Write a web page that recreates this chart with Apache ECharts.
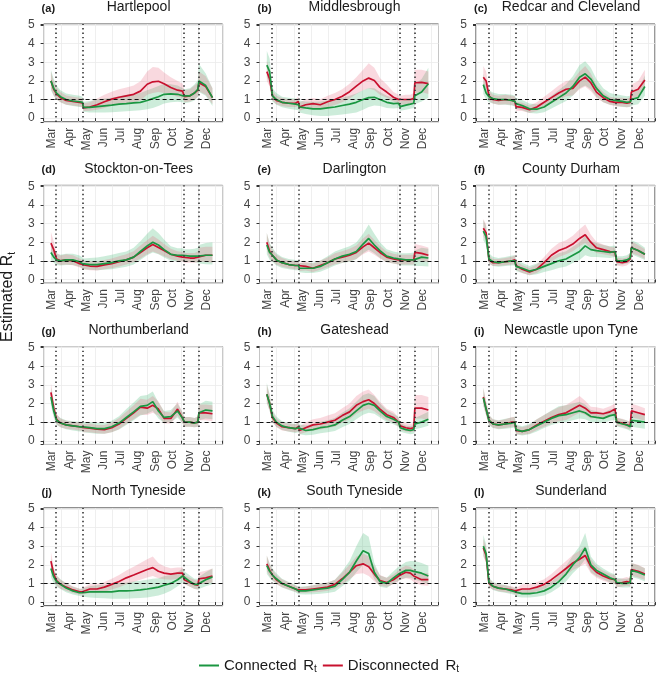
<!DOCTYPE html>
<html>
<head>
<meta charset="utf-8">
<script src="https://cdn.jsdelivr.net/npm/echarts@6.0.0/dist/echarts.min.js"></script>
<style>
  html, body { margin: 0; padding: 0; background: #fff; }
  #eCharts { width: 658px; height: 673px; }
</style>
</head>
<body>
<div id="eCharts"></div>
<script>
// days since 1 March 2020
var days = [13, 18, 23, 30, 40, 52, 64, 69, 71, 82, 95, 108, 121, 134, 147, 160, 172, 184, 194, 204, 214, 226, 238, 247, 250, 260, 268, 274, 276, 288, 300];
var monthLabels = ['Mar', 'Apr', 'May', 'Jun', 'Jul', 'Aug', 'Sep', 'Oct', 'Nov', 'Dec'];
var restrictionDays = [22, 70, 249, 276];
var areaNames = ['Hartlepool', 'Middlesbrough', 'Redcar and Cleveland', 'Stockton-on-Tees', 'Darlington', 'County Durham',
    'Northumberland', 'Gateshead', 'Newcastle upon Tyne', 'North Tyneside', 'South Tyneside', 'Sunderland'];
var panelTags = ['(a)', '(b)', '(c)', '(d)', '(e)', '(f)', '(g)', '(h)', '(i)', '(j)', '(k)', '(l)'];

// connected Rt: median, lower, upper (one row per area)
var connMid = [
    [2.0,1.6,1.35,1.15,1.0,0.92,0.88,0.85,0.58,0.58,0.62,0.66,0.7,0.75,0.78,0.82,0.85,0.95,1.05,1.15,1.28,1.3,1.28,1.2,1.15,1.2,1.35,1.55,2.0,1.75,1.1],
    [2.85,2.5,1.2,1.0,0.85,0.8,0.75,0.72,0.6,0.55,0.5,0.5,0.55,0.6,0.68,0.75,0.85,1.0,1.1,1.12,1.0,0.85,0.78,0.8,0.62,0.7,0.75,0.8,1.2,1.4,1.85],
    [1.8,1.35,1.15,1.05,1.0,1.0,0.95,0.9,0.78,0.68,0.5,0.48,0.6,0.85,1.1,1.35,1.7,2.2,2.38,2.1,1.6,1.2,1.0,0.95,0.95,0.9,0.85,0.88,1.0,1.1,1.7],
    [1.45,1.2,1.05,1.0,1.05,1.05,0.95,0.85,0.8,0.8,0.8,0.85,0.9,1.0,1.05,1.2,1.5,1.8,2.0,1.85,1.6,1.35,1.3,1.3,1.25,1.25,1.25,1.25,1.3,1.3,1.3],
    [1.85,1.45,1.3,1.05,0.9,0.8,0.75,0.75,0.6,0.6,0.6,0.7,0.9,1.1,1.25,1.35,1.5,1.9,2.2,1.85,1.55,1.25,1.15,1.1,1.05,1.05,1.05,1.05,1.1,1.2,1.15],
    [2.6,2.3,1.1,0.95,0.9,0.95,1.0,1.0,0.7,0.6,0.45,0.55,0.7,0.85,1.0,1.1,1.3,1.5,1.8,1.6,1.55,1.5,1.45,1.5,1.0,1.0,1.05,1.15,1.7,1.55,1.35],
    [2.35,1.6,1.1,0.95,0.85,0.8,0.75,0.75,0.7,0.7,0.65,0.65,0.75,0.95,1.25,1.55,1.85,1.9,2.1,1.6,1.25,1.3,1.6,1.2,1.0,1.0,0.95,1.0,1.5,1.65,1.6],
    [2.5,2.0,1.3,1.0,0.8,0.7,0.65,0.7,0.6,0.55,0.6,0.7,0.75,0.85,1.1,1.3,1.6,1.9,2.0,1.9,1.6,1.3,1.15,1.0,0.7,0.6,0.55,0.6,0.9,1.0,1.15],
    [2.3,1.7,1.1,0.9,0.85,0.9,0.95,1.0,0.6,0.5,0.6,0.8,1.0,1.2,1.35,1.4,1.5,1.6,1.5,1.3,1.25,1.2,1.35,1.4,1.0,0.9,0.85,0.75,1.1,1.05,1.0],
    [1.8,1.35,1.1,0.95,0.75,0.6,0.5,0.5,0.5,0.55,0.55,0.55,0.55,0.6,0.6,0.62,0.65,0.7,0.75,0.8,0.9,1.0,1.2,1.4,1.3,1.1,0.95,0.95,1.0,1.2,1.35],
    [1.95,1.65,1.45,1.25,1.0,0.85,0.7,0.6,0.6,0.6,0.65,0.7,0.75,0.85,1.2,1.6,2.2,2.75,2.6,1.6,1.1,1.0,1.3,1.5,1.55,1.7,1.7,1.65,1.65,1.55,1.4],
    [3.0,2.6,1.05,0.85,0.75,0.7,0.6,0.55,0.45,0.45,0.45,0.5,0.6,0.8,1.1,1.5,2.0,2.4,2.9,2.0,1.7,1.5,1.3,1.2,1.05,1.0,1.0,1.05,1.7,1.6,1.45]
];
var connLo = [
    [1.5,1.2,1.0,0.85,0.72,0.65,0.6,0.58,0.35,0.3,0.3,0.3,0.32,0.35,0.37,0.4,0.42,0.48,0.55,0.65,0.78,0.85,0.88,0.85,0.8,0.85,0.95,1.15,1.4,1.2,0.65],
    [2.2,1.9,0.9,0.72,0.58,0.5,0.45,0.42,0.3,0.22,0.15,0.12,0.12,0.15,0.2,0.25,0.3,0.45,0.6,0.68,0.65,0.55,0.52,0.55,0.4,0.45,0.5,0.55,0.75,0.9,1.1],
    [1.3,1.0,0.85,0.78,0.72,0.72,0.68,0.62,0.5,0.42,0.28,0.25,0.32,0.52,0.72,0.92,1.2,1.6,1.75,1.55,1.15,0.85,0.72,0.68,0.65,0.6,0.58,0.6,0.68,0.75,1.2],
    [1.05,0.9,0.78,0.75,0.78,0.78,0.68,0.6,0.55,0.52,0.5,0.52,0.55,0.62,0.68,0.8,1.05,1.3,1.45,1.35,1.18,1.0,0.98,0.98,0.95,0.95,0.92,0.9,0.85,0.82,0.8],
    [1.35,1.05,0.95,0.75,0.62,0.55,0.5,0.5,0.38,0.35,0.35,0.42,0.58,0.75,0.88,0.95,1.08,1.4,1.6,1.4,1.15,0.92,0.85,0.8,0.75,0.75,0.75,0.75,0.72,0.72,0.7],
    [2.1,1.85,0.85,0.72,0.68,0.72,0.75,0.75,0.45,0.35,0.22,0.28,0.4,0.5,0.62,0.7,0.88,1.05,1.3,1.2,1.2,1.18,1.15,1.2,0.8,0.8,0.85,0.92,1.35,1.2,1.05],
    [1.9,1.25,0.85,0.72,0.62,0.55,0.5,0.5,0.45,0.42,0.38,0.38,0.45,0.6,0.85,1.1,1.35,1.45,1.6,1.2,0.95,1.0,1.25,0.92,0.75,0.75,0.72,0.75,1.1,1.2,1.15],
    [2.0,1.6,1.0,0.75,0.58,0.48,0.42,0.45,0.35,0.3,0.32,0.4,0.45,0.52,0.72,0.9,1.15,1.4,1.5,1.45,1.25,1.0,0.88,0.75,0.48,0.4,0.35,0.38,0.62,0.7,0.8],
    [1.85,1.35,0.85,0.68,0.62,0.65,0.68,0.72,0.35,0.28,0.35,0.5,0.68,0.85,0.95,1.0,1.1,1.2,1.15,1.0,0.98,0.95,1.08,1.12,0.78,0.68,0.62,0.52,0.75,0.7,0.65],
    [1.35,1.0,0.82,0.7,0.52,0.4,0.32,0.3,0.28,0.25,0.22,0.2,0.18,0.18,0.18,0.2,0.22,0.25,0.3,0.35,0.45,0.6,0.85,1.05,0.98,0.82,0.7,0.68,0.7,0.85,0.95],
    [1.5,1.3,1.15,0.98,0.78,0.65,0.52,0.42,0.42,0.4,0.42,0.45,0.48,0.55,0.85,1.15,1.6,2.0,1.95,1.22,0.82,0.75,1.0,1.15,1.2,1.3,1.3,1.25,1.2,1.1,0.95],
    [2.5,2.15,0.82,0.65,0.55,0.5,0.42,0.38,0.28,0.25,0.25,0.28,0.35,0.52,0.78,1.1,1.55,1.9,2.3,1.6,1.38,1.22,1.05,0.95,0.82,0.78,0.78,0.8,1.35,1.25,1.1]
];
var connHi = [
    [2.6,2.1,1.75,1.5,1.32,1.25,1.2,1.15,0.88,0.92,1.0,1.05,1.1,1.18,1.25,1.3,1.35,1.5,1.6,1.72,1.85,1.82,1.75,1.6,1.55,1.6,1.8,2.05,2.9,2.4,1.6],
    [3.6,3.2,1.6,1.35,1.15,1.1,1.05,1.02,0.95,0.9,0.88,0.9,0.95,1.02,1.1,1.2,1.32,1.5,1.62,1.6,1.4,1.2,1.08,1.1,0.9,1.0,1.05,1.15,1.8,2.1,2.7],
    [2.4,1.75,1.5,1.38,1.3,1.3,1.25,1.2,1.08,0.98,0.78,0.75,0.9,1.2,1.5,1.82,2.25,2.85,3.05,2.7,2.1,1.6,1.35,1.28,1.28,1.22,1.18,1.2,1.35,1.5,2.3],
    [2.0,1.6,1.4,1.32,1.38,1.38,1.28,1.18,1.12,1.15,1.18,1.25,1.32,1.42,1.5,1.7,2.05,2.45,2.75,2.5,2.15,1.78,1.68,1.68,1.62,1.62,1.65,1.7,1.85,1.95,2.0],
    [2.5,1.95,1.7,1.4,1.2,1.1,1.05,1.05,0.88,0.9,0.9,1.02,1.25,1.5,1.65,1.78,1.98,2.45,2.95,2.45,2.0,1.62,1.5,1.45,1.4,1.4,1.42,1.45,1.55,1.7,1.65],
    [3.2,2.85,1.4,1.22,1.15,1.2,1.28,1.3,1.0,0.9,0.72,0.85,1.02,1.2,1.4,1.52,1.75,2.0,2.35,2.05,1.95,1.85,1.78,1.82,1.25,1.25,1.3,1.42,2.1,1.95,1.7],
    [2.9,2.0,1.4,1.22,1.1,1.05,1.02,1.02,0.98,1.0,0.95,0.95,1.08,1.32,1.7,2.05,2.4,2.45,2.65,2.05,1.6,1.65,2.0,1.5,1.28,1.28,1.22,1.3,1.95,2.15,2.1],
    [3.1,2.5,1.65,1.3,1.05,0.95,0.9,0.95,0.88,0.82,0.9,1.02,1.1,1.22,1.5,1.75,2.1,2.45,2.55,2.4,2.0,1.65,1.45,1.28,0.95,0.82,0.78,0.85,1.22,1.38,1.55],
    [2.85,2.1,1.4,1.15,1.1,1.18,1.25,1.3,0.88,0.78,0.9,1.15,1.38,1.62,1.85,1.9,2.0,2.1,1.95,1.65,1.58,1.5,1.68,1.72,1.25,1.15,1.1,1.0,1.5,1.48,1.42],
    [2.35,1.75,1.42,1.22,1.0,0.82,0.72,0.72,0.75,0.85,0.9,0.92,0.95,1.02,1.05,1.1,1.15,1.2,1.25,1.28,1.38,1.45,1.6,1.8,1.65,1.42,1.25,1.25,1.35,1.6,1.8],
    [2.5,2.05,1.8,1.55,1.25,1.08,0.92,0.82,0.82,0.85,0.9,0.98,1.05,1.2,1.65,2.2,3.0,3.7,3.5,2.1,1.42,1.3,1.65,1.9,1.95,2.15,2.2,2.2,2.2,2.1,1.95],
    [3.6,3.1,1.32,1.08,0.98,0.92,0.8,0.75,0.65,0.68,0.68,0.75,0.88,1.1,1.45,1.92,2.5,3.0,3.7,2.45,2.05,1.8,1.58,1.48,1.3,1.25,1.25,1.3,2.1,1.98,1.82]
];

// disconnected Rt: median, lower, upper (one row per area)
var discMid = [
    [2.0,1.55,1.3,1.1,0.95,0.9,0.85,0.82,0.55,0.6,0.72,0.88,1.02,1.12,1.2,1.28,1.45,1.82,1.95,1.98,1.85,1.65,1.5,1.45,1.15,1.2,1.35,1.5,1.9,1.7,1.1],
    [2.5,2.1,1.2,0.95,0.85,0.8,0.8,0.9,0.6,0.72,0.78,0.72,0.88,1.0,1.18,1.42,1.72,2.0,2.15,2.02,1.65,1.4,1.12,1.0,0.95,1.0,1.0,1.05,1.9,1.92,1.85],
    [2.2,2.0,1.2,1.0,0.95,1.0,0.95,0.9,0.62,0.58,0.45,0.6,0.85,1.1,1.35,1.55,1.6,2.0,2.2,1.9,1.4,1.1,0.9,0.85,0.85,0.85,0.8,0.85,1.4,1.55,2.05],
    [1.95,1.6,1.1,1.0,1.05,1.0,0.85,0.8,0.75,0.72,0.7,0.78,0.85,0.95,1.05,1.2,1.45,1.7,1.88,1.72,1.55,1.35,1.25,1.2,1.15,1.15,1.15,1.2,1.3,1.3,1.3],
    [2.0,1.5,1.3,1.05,0.9,0.8,0.75,0.75,0.65,0.7,0.6,0.75,0.9,1.1,1.2,1.3,1.45,1.75,1.95,1.7,1.45,1.2,1.1,1.05,1.05,1.05,1.05,1.05,1.45,1.4,1.3],
    [2.75,2.5,1.05,0.9,0.9,0.95,1.0,1.05,0.75,0.55,0.4,0.55,0.9,1.3,1.55,1.7,1.9,2.2,2.4,2.0,1.7,1.6,1.5,1.45,0.95,0.9,0.95,1.1,1.7,1.55,1.35],
    [2.6,1.75,1.15,0.95,0.85,0.8,0.75,0.72,0.65,0.68,0.62,0.6,0.7,0.9,1.2,1.5,1.8,1.75,1.9,1.7,1.2,1.2,1.7,1.2,1.0,1.0,0.95,1.0,1.5,1.5,1.45],
    [2.5,2.0,1.25,0.95,0.75,0.7,0.65,0.75,0.55,0.7,0.85,0.9,1.0,1.1,1.35,1.55,1.9,2.1,2.2,2.0,1.7,1.4,1.25,1.0,0.8,0.7,0.65,0.7,1.75,1.75,1.65],
    [2.35,1.7,1.1,0.9,0.85,0.9,1.0,1.0,0.55,0.5,0.6,0.85,1.05,1.25,1.4,1.5,1.7,1.9,1.75,1.5,1.5,1.45,1.55,1.7,1.0,0.95,0.85,0.8,1.6,1.5,1.4],
    [2.2,1.5,1.15,0.95,0.8,0.65,0.55,0.55,0.6,0.7,0.7,0.8,0.95,1.1,1.3,1.45,1.6,1.75,1.85,1.65,1.55,1.5,1.55,1.55,1.2,1.05,0.95,0.9,1.25,1.3,1.4],
    [2.05,1.7,1.45,1.2,1.0,0.85,0.7,0.65,0.62,0.65,0.7,0.75,0.8,0.95,1.25,1.6,1.95,2.05,1.9,1.5,1.15,1.05,1.2,1.4,1.5,1.6,1.55,1.4,1.35,1.2,1.2],
    [2.9,2.5,1.0,0.85,0.75,0.7,0.65,0.6,0.55,0.7,0.7,0.8,0.95,1.2,1.5,1.8,2.1,2.3,2.5,1.9,1.6,1.4,1.25,1.2,1.0,1.05,1.1,1.05,1.75,1.65,1.5]
];
var discLo = [
    [1.6,1.2,1.0,0.85,0.72,0.68,0.62,0.6,0.38,0.4,0.45,0.55,0.68,0.75,0.8,0.85,0.95,1.25,1.35,1.4,1.35,1.25,1.15,1.1,0.85,0.9,1.0,1.15,1.45,1.25,0.75],
    [2.0,1.7,0.95,0.75,0.65,0.6,0.6,0.65,0.4,0.5,0.52,0.48,0.6,0.7,0.85,1.05,1.3,1.5,1.6,1.5,1.25,1.1,0.9,0.8,0.7,0.75,0.75,0.8,1.35,1.4,1.3],
    [1.75,1.6,0.95,0.78,0.72,0.75,0.7,0.65,0.4,0.38,0.28,0.38,0.58,0.8,1.0,1.18,1.22,1.55,1.7,1.45,1.08,0.85,0.7,0.65,0.62,0.62,0.58,0.62,1.05,1.15,1.55],
    [1.5,1.25,0.85,0.78,0.8,0.76,0.64,0.58,0.55,0.5,0.48,0.55,0.6,0.7,0.8,0.92,1.12,1.35,1.5,1.38,1.25,1.08,1.0,0.95,0.9,0.9,0.9,0.92,0.95,0.95,0.9],
    [1.6,1.15,1.0,0.8,0.68,0.6,0.55,0.55,0.45,0.48,0.4,0.52,0.65,0.82,0.9,0.98,1.1,1.35,1.5,1.32,1.12,0.92,0.85,0.8,0.8,0.8,0.8,0.8,1.05,1.02,0.92],
    [2.3,2.1,0.85,0.72,0.72,0.76,0.8,0.82,0.52,0.35,0.22,0.35,0.62,0.98,1.2,1.35,1.52,1.78,1.95,1.65,1.42,1.35,1.28,1.22,0.75,0.7,0.75,0.88,1.4,1.28,1.1],
    [2.15,1.4,0.9,0.72,0.65,0.6,0.55,0.52,0.45,0.45,0.4,0.38,0.45,0.62,0.9,1.15,1.4,1.38,1.5,1.35,0.92,0.92,1.35,0.92,0.75,0.75,0.72,0.75,1.1,1.1,1.05],
    [2.05,1.62,1.0,0.72,0.55,0.5,0.45,0.52,0.35,0.45,0.55,0.6,0.68,0.75,0.98,1.15,1.45,1.62,1.72,1.58,1.35,1.1,0.98,0.78,0.58,0.5,0.45,0.5,1.2,1.2,1.1],
    [1.95,1.38,0.88,0.7,0.65,0.68,0.75,0.75,0.35,0.32,0.38,0.58,0.75,0.92,1.05,1.12,1.32,1.5,1.4,1.2,1.22,1.18,1.28,1.4,0.8,0.75,0.65,0.6,1.25,1.18,1.08],
    [1.8,1.2,0.9,0.72,0.6,0.48,0.4,0.4,0.42,0.48,0.48,0.55,0.68,0.8,0.95,1.08,1.2,1.32,1.4,1.28,1.22,1.2,1.25,1.25,0.95,0.82,0.72,0.68,0.95,0.98,1.05],
    [1.65,1.38,1.18,0.95,0.8,0.68,0.55,0.5,0.48,0.5,0.52,0.55,0.6,0.72,0.95,1.22,1.5,1.55,1.4,1.12,0.88,0.82,0.95,1.12,1.2,1.28,1.22,1.08,1.02,0.9,0.88],
    [2.45,2.1,0.8,0.68,0.58,0.52,0.48,0.42,0.38,0.48,0.48,0.56,0.7,0.92,1.18,1.45,1.72,1.9,2.05,1.55,1.3,1.15,1.02,0.98,0.8,0.84,0.88,0.84,1.42,1.32,1.2]
];
var discHi = [
    [2.5,1.95,1.65,1.4,1.22,1.15,1.1,1.05,0.78,0.85,1.05,1.25,1.42,1.55,1.65,1.75,1.98,2.5,2.75,2.7,2.45,2.2,2.0,1.85,1.5,1.55,1.75,1.9,2.5,2.25,1.6],
    [3.1,2.6,1.5,1.2,1.08,1.02,1.02,1.15,0.85,1.0,1.08,1.02,1.2,1.35,1.55,1.85,2.2,2.6,2.95,2.7,2.15,1.8,1.4,1.25,1.2,1.25,1.25,1.35,2.6,2.6,2.5],
    [2.8,2.5,1.5,1.25,1.2,1.25,1.2,1.18,0.88,0.82,0.68,0.85,1.15,1.45,1.75,2.0,2.05,2.5,2.8,2.4,1.78,1.4,1.15,1.1,1.1,1.1,1.05,1.1,1.8,2.0,2.6],
    [2.55,2.05,1.4,1.28,1.35,1.3,1.12,1.05,1.0,0.98,0.95,1.05,1.12,1.25,1.35,1.52,1.82,2.1,2.35,2.15,1.9,1.65,1.52,1.48,1.42,1.42,1.42,1.5,1.7,1.75,1.75],
    [2.5,1.9,1.62,1.32,1.15,1.02,0.98,0.98,0.88,0.95,0.85,1.0,1.18,1.4,1.52,1.65,1.82,2.2,2.45,2.12,1.8,1.5,1.38,1.32,1.32,1.32,1.32,1.32,1.9,1.82,1.72],
    [3.25,2.95,1.3,1.1,1.1,1.15,1.22,1.3,1.0,0.78,0.62,0.8,1.2,1.65,1.95,2.1,2.35,2.7,2.95,2.4,2.02,1.88,1.75,1.7,1.18,1.12,1.18,1.35,2.05,1.85,1.62],
    [3.1,2.15,1.45,1.2,1.08,1.02,0.98,0.95,0.88,0.92,0.85,0.85,0.98,1.22,1.55,1.9,2.25,2.2,2.4,2.12,1.55,1.52,2.1,1.5,1.28,1.28,1.22,1.28,1.95,1.95,1.9],
    [3.0,2.45,1.55,1.2,0.98,0.92,0.88,1.0,0.78,0.98,1.15,1.22,1.35,1.48,1.75,2.0,2.4,2.65,2.75,2.45,2.1,1.72,1.55,1.25,1.05,0.95,0.9,0.95,2.45,2.45,2.35],
    [2.85,2.1,1.38,1.15,1.08,1.15,1.28,1.28,0.8,0.72,0.85,1.15,1.38,1.6,1.8,1.92,2.15,2.4,2.15,1.82,1.8,1.72,1.85,2.0,1.22,1.18,1.08,1.02,2.0,1.88,1.75],
    [2.7,1.85,1.42,1.2,1.02,0.85,0.72,0.72,0.8,0.95,0.95,1.08,1.25,1.45,1.7,1.9,2.1,2.3,2.45,2.1,1.92,1.82,1.85,1.85,1.45,1.3,1.2,1.15,1.6,1.68,1.8],
    [2.5,2.05,1.75,1.45,1.22,1.05,0.88,0.82,0.8,0.82,0.9,0.98,1.05,1.2,1.58,2.0,2.45,2.6,2.45,1.92,1.45,1.3,1.48,1.7,1.8,1.95,1.9,1.75,1.7,1.55,1.55],
    [3.4,2.95,1.25,1.05,0.95,0.9,0.85,0.8,0.75,0.95,0.95,1.06,1.22,1.5,1.85,2.2,2.52,2.75,3.0,2.3,1.92,1.68,1.5,1.44,1.22,1.28,1.34,1.28,2.1,2.0,1.82]
];

var myChart = echarts.init(document.getElementById('eCharts'));

var FONT = 'Liberation Sans, Arial, Helvetica, sans-serif';
var green = '#1a9641';
var red = '#c8102e';
var greenBand = 'rgba(70,185,120,0.27)';
var redBand = 'rgba(228,80,110,0.22)';

// panel layout (pixels)
var colLeft = [43.6, 259.5, 476];
var rowY5 = [25, 186.3, 347.6, 508.9];   // pixel row of the "5" tick
var unitPx = 18.63;                        // pixels per Rt unit
var plotW = 179;
var yMin = -0.2, yMax = 5.05;
var xMax = 318;
var monthStep = 30.55;

var grids = [], xAxes = [], yAxes = [], series = [], graphics = [];

function bandSeries(k, lo, hi, color) {
    return {
        type: 'custom',
        xAxisIndex: k,
        yAxisIndex: k,
        silent: true,
        clip: true,
        z: 1,
        data: days.map(function (d, i) { return [d, lo[i], hi[i]]; }),
        renderItem: function (params, api) {
            if (params.dataIndex !== 0) return null;
            var pts = [];
            for (var i = 0; i < days.length; i++) pts.push(api.coord([days[i], lo[i]]));
            for (var j = days.length - 1; j >= 0; j--) pts.push(api.coord([days[j], hi[j]]));
            return { type: 'polygon', shape: { points: pts }, style: { fill: color } };
        }
    };
}

function monthFormatter(v) {
    var m = Math.round(v / monthStep);
    return (Math.abs(v - m * monthStep) < 0.01 && m < monthLabels.length) ? monthLabels[m] : '';
}

function rtFormatter(v) {
    return Math.abs(v - Math.round(v)) < 1e-6 ? String(Math.round(v)) : '';
}

for (var k = 0; k < 12; k++) {
    var row = Math.floor(k / 3), col = k % 3;
    var gridTop = rowY5[row] - (yMax - 5) * unitPx;
    grids.push({
        left: colLeft[col], top: gridTop, width: plotW, height: (yMax - yMin) * unitPx,
        show: true, borderColor: '#333', borderWidth: 1, backgroundColor: 'transparent'
    });
    xAxes.push({
        gridIndex: k, type: 'value', min: 0, max: xMax, interval: monthStep,
        axisLine: { show: false },
        axisTick: { show: true, length: 3, lineStyle: { color: '#333', width: 1 } },
        splitLine: { show: true, lineStyle: { color: '#ebebeb', width: 0.8 } },
        axisLabel: {
            rotate: 90, verticalAlign: 'top', lineHeight: 17, margin: 6,
            fontSize: 12, fontFamily: FONT, color: '#444',
            formatter: monthFormatter
        }
    });
    yAxes.push({
        gridIndex: k, type: 'value', min: yMin, max: yMax, splitNumber: 5,
        axisLine: { show: false },
        axisTick: { show: true, length: 3, lineStyle: { color: '#333', width: 1 } },
        splitLine: { show: true, lineStyle: { color: '#ebebeb', width: 0.8 } },
        axisLabel: { margin: 9, fontSize: 12, fontFamily: FONT, color: '#444', formatter: rtFormatter }
    });

    series.push(bandSeries(k, connLo[k], connHi[k], greenBand));
    series.push(bandSeries(k, discLo[k], discHi[k], redBand));
    series.push({
        name: 'Disconnected', type: 'line', xAxisIndex: k, yAxisIndex: k,
        data: days.map(function (d, i) { return [d, discMid[k][i]]; }),
        showSymbol: false, symbol: 'none', z: 3,
        lineStyle: { color: red, width: 1.7 }, itemStyle: { color: red }
    });
    series.push({
        name: 'Connected', type: 'line', xAxisIndex: k, yAxisIndex: k,
        data: days.map(function (d, i) { return [d, connMid[k][i]]; }),
        showSymbol: false, symbol: 'none', z: 4,
        lineStyle: { color: green, width: 1.7 }, itemStyle: { color: green },
        markLine: {
            silent: true, symbol: ['none', 'none'], label: { show: false }, animation: false,
            data: [{ yAxis: 1, lineStyle: { color: '#111', type: [4, 3], width: 1 } }].concat(
                restrictionDays.map(function (d) {
                    return { xAxis: d, lineStyle: { color: '#333', type: [1.4, 3], width: 1.6 } };
                }))
        }
    });

    // panel title and tag
    graphics.push({
        type: 'text', x: colLeft[col] + 95, y: rowY5[row] - 17.5,
        style: { text: areaNames[k], fontSize: 14, fontFamily: FONT, fill: '#1a1a1a', align: 'center', verticalAlign: 'middle' }
    });
    graphics.push({
        type: 'text', x: colLeft[col] - 2, y: rowY5[row] - 16,
        style: { text: panelTags[k], fontSize: 11, fontWeight: 'bold', fontFamily: FONT, fill: '#1a1a1a', align: 'left', verticalAlign: 'middle' }
    });
}

// y axis title
graphics.push({
    type: 'text', x: 8, y: 297, rotation: Math.PI / 2,
    style: {
        text: '{a|Estimated R}{b|t}', align: 'center', verticalAlign: 'middle',
        rich: {
            a: { fontSize: 16, fontFamily: FONT, fill: '#1a1a1a', lineHeight: 19 },
            b: { fontSize: 10, fontFamily: FONT, fill: '#1a1a1a', lineHeight: 10, verticalAlign: 'bottom' }
        }
    }
});

var option = {
    backgroundColor: '#fff',
    animation: false,
    grid: grids,
    xAxis: xAxes,
    yAxis: yAxes,
    legend: {
        data: ['Connected', 'Disconnected'],
        top: 653, left: 'center',
        icon: 'rect', itemWidth: 20, itemHeight: 2, itemGap: 6,
        formatter: function (name) { return '{n|' + name + '}  {r|R}{s|t}'; },
        textStyle: {
            fontFamily: FONT, color: '#1a1a1a',
            rich: {
                n: { fontSize: 15, fontFamily: FONT, color: '#1a1a1a', lineHeight: 18 },
                r: { fontSize: 15, fontFamily: FONT, color: '#1a1a1a', lineHeight: 18 },
                s: { fontSize: 10, fontFamily: FONT, color: '#1a1a1a', lineHeight: 10, verticalAlign: 'bottom' }
            }
        }
    },
    graphic: graphics,
    series: series
};
myChart.setOption(option);
</script>
</body>
</html>
